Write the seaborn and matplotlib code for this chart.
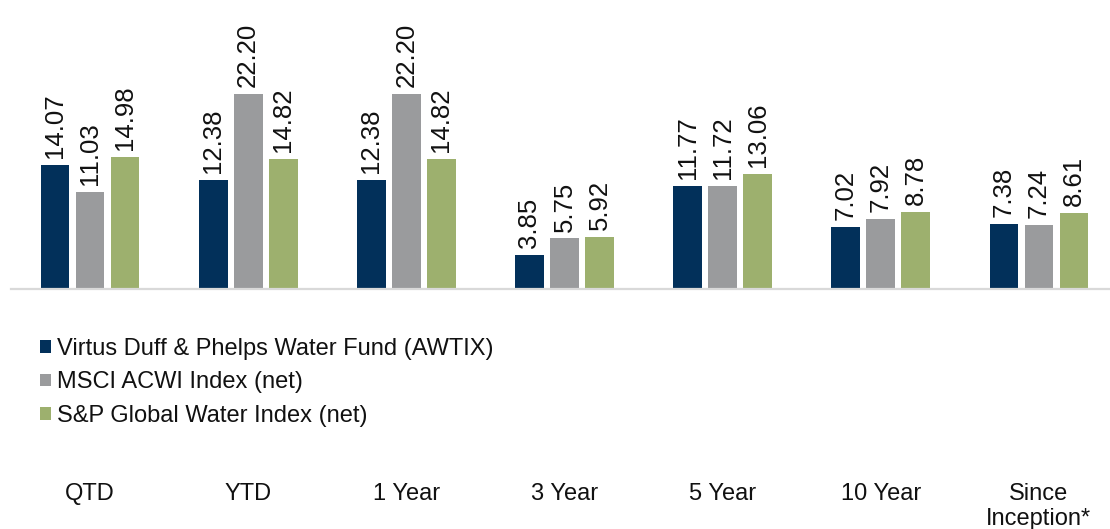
import matplotlib as mpl

mpl.use('Agg')
import matplotlib.pyplot as plt
import pandas as pd
import seaborn as sns

periods = ['QTD', 'YTD', '1 Year', '3 Year', '5 Year', '10 Year', 'Since\nInception*']
series = ['Virtus Duff & Phelps Water Fund (AWTIX)', 'MSCI ACWI Index (net)',
          'S&P Global Water Index (net)']
fund = [14.07, 12.38, 12.38, 3.85, 11.77, 7.02, 7.38]
msci = [11.03, 22.20, 22.20, 5.75, 11.72, 7.92, 7.24]
sp_water = [14.98, 14.82, 14.82, 5.92, 13.06, 8.78, 8.61]
colors = ['#02305a', '#9a9b9d', '#9db06e']


def build_frame():
    rows = []
    for name, vals in zip(series, [fund, msci, sp_water]):
        for p, v in zip(periods, vals):
            rows.append({'period': p, 'series': name, 'value': v})
    return pd.DataFrame(rows)


def plot_returns(df):
    sns.set_style('white')
    plt.rcParams['font.family'] = ['Liberation Sans', 'DejaVu Sans']
    fig = plt.figure(figsize=(11.1, 5.29), dpi=100)
    # axes run a little past the right edge, as in the original
    ax = fig.add_axes([11 / 1110, 0.4537, 1107 / 1110, 0.5463])
    sns.barplot(data=df, x='period', y='value', hue='series', palette=colors,
                width=0.665, gap=0.18, ax=ax, saturation=1, edgecolor='none')
    for c in ax.containers:
        ax.bar_label(c, fmt='%.2f', rotation=90, padding=5, fontsize=18.5, color='#111111')
    ax.set_ylim(0, 32.9)
    ax.set_xlim(-0.5, 6.5)
    ax.set_xlabel('')
    ax.set_ylabel('')
    ax.set_yticks([])
    ax.tick_params(axis='x', length=0, pad=140, labelsize=17, colors='#111111')
    plt.setp(ax.get_xticklabels(), linespacing=1.15)
    for s in ['top', 'right', 'left']:
        ax.spines[s].set_visible(False)
    ax.spines['bottom'].set_color('#d9d9d9')
    ax.spines['bottom'].set_linewidth(1.6)
    handles, labels = ax.get_legend_handles_labels()
    ax.get_legend().remove()
    fig.legend(handles, labels, loc='upper left', bbox_to_anchor=(40 / 1110, 1 - 338 / 529),
               frameon=False, fontsize=17, handlelength=0.45, handleheight=0.45,
               handletextpad=0.25, labelspacing=0.48, borderpad=0, borderaxespad=0,
               labelcolor='#111111')
    fig.savefig('out.png', dpi=100)


if __name__ == '__main__':
    plot_returns(build_frame())
